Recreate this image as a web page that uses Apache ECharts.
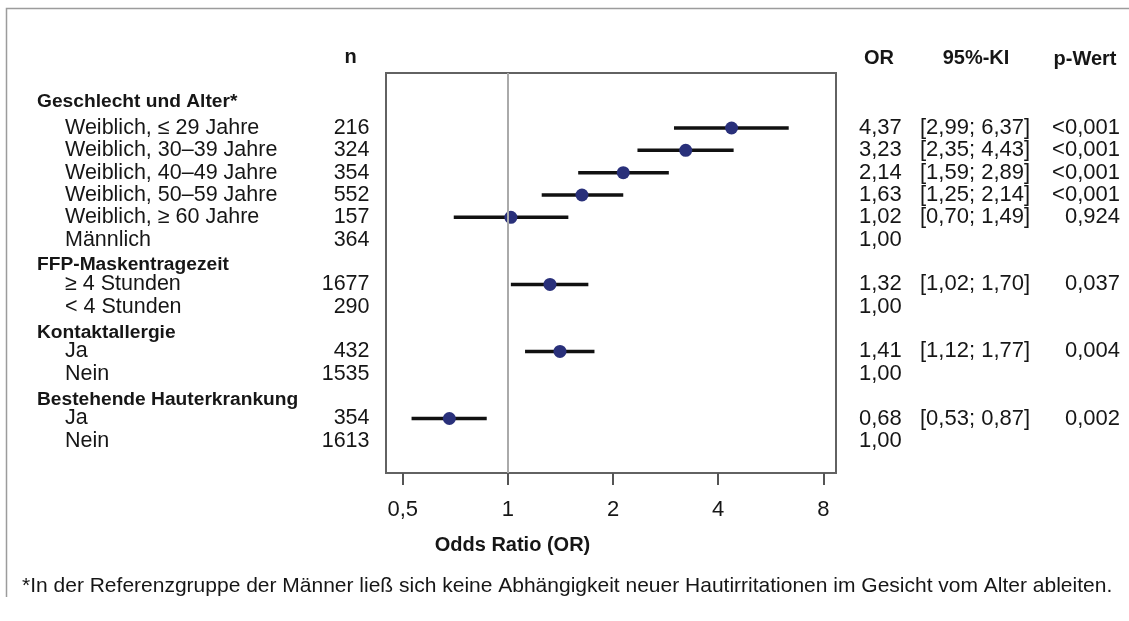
<!DOCTYPE html>
<html>
<head>
<meta charset="utf-8">
<script src="https://cdn.jsdelivr.net/npm/echarts@6/dist/echarts.min.js"></script>
<style>
  html, body { margin: 0; padding: 0; background: #fff; }
  #chart { width: 1129px; height: 621px; }
</style>
</head>
<body>
<div id="chart"></div>
<script>
// ---------------- DATA ----------------
const groups = ['Geschlecht und Alter*', 'FFP-Maskentragezeit', 'Kontaktallergie', 'Bestehende Hauterkrankung'];
const groupSizes = [6, 2, 2, 2];
const labels = ['Weiblich, \u2264 29 Jahre', 'Weiblich, 30\u201339 Jahre', 'Weiblich, 40\u201349 Jahre',
  'Weiblich, 50\u201359 Jahre', 'Weiblich, \u2265 60 Jahre', 'M\u00e4nnlich',
  '\u2265 4 Stunden', '< 4 Stunden', 'Ja', 'Nein', 'Ja', 'Nein'];
const nValues = [216, 324, 354, 552, 157, 364, 1677, 290, 432, 1535, 354, 1613];
const orValues = [4.37, 3.23, 2.14, 1.63, 1.02, 1.00, 1.32, 1.00, 1.41, 1.00, 0.68, 1.00];
const ciLow = [2.99, 2.35, 1.59, 1.25, 0.70, null, 1.02, null, 1.12, null, 0.53, null];
const ciHigh = [6.37, 4.43, 2.89, 2.14, 1.49, null, 1.70, null, 1.77, null, 0.87, null];
const pValues = ['<0,001', '<0,001', '<0,001', '<0,001', '0,924', '', '0,037', '', '0,004', '', '0,002', ''];
const xTickValues = [0.5, 1, 2, 4, 8];
const columnHeaders = ['n', 'OR', '95%-KI', 'p-Wert'];
const axisTitle = 'Odds Ratio (OR)';
const footnote = '*In der Referenzgruppe der M\u00e4nner lie\u00df sich keine Abh\u00e4ngigkeit neuer Hautirritationen im Gesicht vom Alter ableiten.';

// ---------------- LAYOUT ----------------
const FONT = "'Liberation Sans', Arial, sans-serif";
const TXT = '#161616';
const HEADER_SHIFT = [-0.18, 0.13, 0.17, 0.17];
const fmt2 = v => v.toFixed(2).replace('.', ',');
const fmtTick = v => String(Math.round(Math.pow(2, v) * 100) / 100).replace('.', ',');
const key = v => v.toFixed(3);

// row positions (row units, inverted y axis)
const headerPos = [], itemPos = [];
let k = -1;
groups.forEach((g, gi) => {
  headerPos.push(k + HEADER_SHIFT[gi]);
  k++;
  for (let i = 0; i < groupSizes[gi]; i++) { itemPos.push(k); k++; }
});

const headerMap = {}, labelMap = {}, nMap = {}, orMap = {}, ciMap = {}, pMap = {};
headerPos.forEach((p, i) => { headerMap[key(p)] = groups[i]; });
itemPos.forEach((p, i) => {
  labelMap[key(p)] = labels[i];
  nMap[key(p)] = String(nValues[i]);
  orMap[key(p)] = fmt2(orValues[i]);
  ciMap[key(p)] = ciLow[i] == null ? '' : '[' + fmt2(ciLow[i]) + '; ' + fmt2(ciHigh[i]) + ']';
  pMap[key(p)] = pValues[i];
});

const ciData = [], pointData = [];
itemPos.forEach((p, i) => {
  if (ciLow[i] != null) {
    ciData.push([Math.log2(ciLow[i]), Math.log2(ciHigh[i]), p]);
    pointData.push([Math.log2(orValues[i]), p]);
  }
});

const Y_MIN = -2.46, Y_MAX = 15.44;
function textAxis(position, values, map, align, margin, fontSize, bold) {
  return {
    type: 'value', position: position, min: Y_MIN, max: Y_MAX, inverse: true,
    axisLine: { show: false, onZero: false }, axisTick: { show: false }, splitLine: { show: false },
    axisLabel: {
      customValues: values, align: align, margin: margin,
      color: TXT, fontFamily: FONT, fontSize: fontSize, fontWeight: bold ? 'bold' : 'normal',
      formatter: v => map[key(v)] || ''
    }
  };
}

const chart = echarts.init(document.getElementById('chart'), null, { renderer: 'canvas' });
chart.setOption({
  animation: false,
  backgroundColor: '#fff',
  grid: { left: 386, top: 73, width: 450, height: 400, show: true, borderColor: '#626262', borderWidth: 2, containLabel: false },
  xAxis: {
    type: 'value', min: -1.159, max: 3.121,
    splitLine: { show: false },
    axisLine: { show: false, onZero: false },
    axisTick: { show: true, customValues: xTickValues.map(Math.log2), length: 12, lineStyle: { color: '#555', width: 2 } },
    axisLabel: { customValues: xTickValues.map(Math.log2), margin: 26, color: TXT, fontFamily: FONT, fontSize: 22, formatter: fmtTick }
  },
  yAxis: [
    textAxis('left', headerPos, headerMap, 'left', 386 - 37, 19.2, true),
    textAxis('left', itemPos, labelMap, 'left', 386 - 65, 21.5, false),
    textAxis('left', itemPos, nMap, 'right', 386 - 369.5, 21.5, false),
    textAxis('right', itemPos, orMap, 'left', 859 - 836, 22, false),
    textAxis('right', itemPos, ciMap, 'left', 920 - 836, 22, false),
    textAxis('right', itemPos, pMap, 'right', 1120 - 836, 22, false)
  ],
  series: [
    {
      type: 'line', data: [], z: 1, silent: true,
      markLine: {
        silent: true, symbol: ['none', 'none'], label: { show: false },
        lineStyle: { color: '#aaaaaa', width: 2, type: 'solid' },
        data: [{ xAxis: 0 }]
      }
    },
    {
      type: 'custom', z: 2, silent: true,
      data: ciData,
      encode: { x: [0, 1], y: 2 },
      renderItem: (params, api) => {
        const a = api.coord([api.value(0), api.value(2)]);
        const b = api.coord([api.value(1), api.value(2)]);
        return { type: 'line', shape: { x1: a[0], y1: a[1], x2: b[0], y2: b[1] }, style: { stroke: '#111', lineWidth: 3.5 } };
      }
    },
    {
      type: 'scatter', z: 3, silent: true,
      data: pointData, symbol: 'circle', symbolSize: 13,
      itemStyle: { color: '#29307a', opacity: 1 }
    }
  ],
  graphic: [
    { type: 'polyline', silent: true, shape: { points: [[1129, 8.5], [6.5, 8.5], [6.5, 597]] }, style: { stroke: '#9c9c9c', lineWidth: 1.5, fill: null } },
    { type: 'text', x: 350.5, y: 57, style: { text: columnHeaders[0], font: 'bold 20px ' + FONT, fill: TXT, align: 'center', verticalAlign: 'middle' } },
    { type: 'text', x: 879, y: 58, style: { text: columnHeaders[1], font: 'bold 20px ' + FONT, fill: TXT, align: 'center', verticalAlign: 'middle' } },
    { type: 'text', x: 976, y: 58, style: { text: columnHeaders[2], font: 'bold 20px ' + FONT, fill: TXT, align: 'center', verticalAlign: 'middle' } },
    { type: 'text', x: 1085, y: 59, style: { text: columnHeaders[3], font: 'bold 20px ' + FONT, fill: TXT, align: 'center', verticalAlign: 'middle' } },
    { type: 'text', x: 512.5, y: 545, style: { text: axisTitle, font: 'bold 20px ' + FONT, fill: TXT, align: 'center', verticalAlign: 'middle' } },
    { type: 'text', x: 22, y: 586, style: { text: footnote, font: '21px ' + FONT, fill: TXT, align: 'left', verticalAlign: 'middle' } }
  ]
});
</script>
</body>
</html>
